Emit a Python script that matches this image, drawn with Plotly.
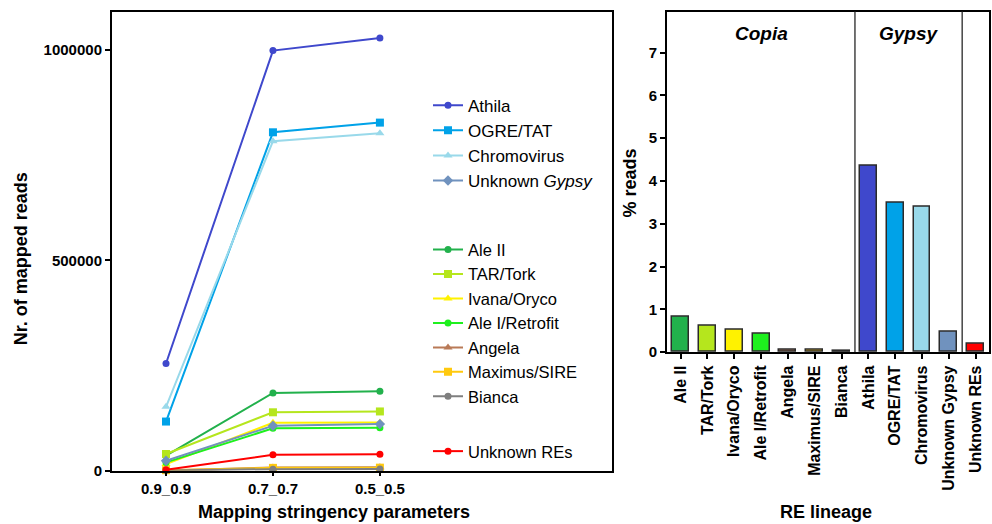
import plotly.graph_objects as go

W, H = 992, 524

# ---- left panel: mapped reads per lineage at three stringency settings ----
stringency = ["0.9_0.9", "0.7_0.7", "0.5_0.5"]

athila = [255000, 998000, 1028000]
ogre_tat = [117000, 804000, 827000]
chromovirus = [152000, 783000, 802000]
unknown_gypsy = [24000, 107000, 111000]
ale_ii = [36000, 185000, 189000]
tar_tork = [40000, 139000, 141000]
ivana_oryco = [16000, 114000, 115000]
ale_i_retrofit = [20000, 101000, 102000]
angela = [500, 8000, 8500]
maximus_sire = [1500, 7000, 7500]
bianca = [500, 4000, 4500]
unknown_res = [2500, 38000, 39500]

# ---- right panel: share of reads per lineage ----
lineages = ["Ale II", "TAR/Tork", "Ivana/Oryco", "Ale I/Retrofit", "Angela",
            "Maximus/SIRE", "Bianca", "Athila", "OGRE/TAT", "Chromovirus",
            "Unknown Gypsy", "Unknown REs"]
pct_reads = [0.82, 0.62, 0.51, 0.43, 0.05, 0.05, 0.03, 4.34, 3.49, 3.40, 0.48, 0.19]

C = {
    "Athila": "#3F48CC", "OGRE/TAT": "#00A2E8", "Chromovirus": "#99D9EA",
    "Unknown Gypsy": "#7092BE", "Ale II": "#22B14C", "TAR/Tork": "#B5E61D",
    "Ivana/Oryco": "#FFF200", "Ale I/Retrofit": "#1EF01E", "Angela": "#B97A57",
    "Maximus/SIRE": "#FFC90E", "Bianca": "#7F7F7F", "Unknown REs": "#FF0000",
}

FONT = "Liberation Sans, Arial, sans-serif"

def px_x(p):
    return p / W

def px_y(p):
    # pixel row (from top) -> paper fraction
    return 1 - (p + 1.9) / 0.987 / H

fig = go.Figure()

# (name, label, values, symbol, legend); drawing order puts Unknown Gypsy above the Copia lines
series = [
    ("Athila", "Athila", athila, "circle", "legend"),
    ("OGRE/TAT", "OGRE/TAT", ogre_tat, "square", "legend"),
    ("Chromovirus", "Chromovirus", chromovirus, "triangle-up", "legend"),
    ("Ale II", "Ale II", ale_ii, "circle", "legend2"),
    ("TAR/Tork", "TAR/Tork", tar_tork, "square", "legend2"),
    ("Ivana/Oryco", "Ivana/Oryco", ivana_oryco, "triangle-up", "legend2"),
    ("Ale I/Retrofit", "Ale I/Retrofit", ale_i_retrofit, "circle", "legend2"),
    ("Angela", "Angela", angela, "triangle-up", "legend2"),
    ("Maximus/SIRE", "Maximus/SIRE", maximus_sire, "square", "legend2"),
    ("Bianca", "Bianca", bianca, "circle", "legend2"),
    ("Unknown Gypsy", "Unknown <i>Gypsy</i>", unknown_gypsy, "diamond", "legend"),
    ("Unknown REs", "Unknown REs", unknown_res, "circle", "legend3"),
]

for key, label, vals, sym, leg in series:
    fig.add_trace(go.Scatter(
        x=stringency, y=vals, name=label, mode="lines+markers",
        line=dict(color=C[key], width=2),
        marker=dict(color=C[key], symbol=sym, size=8 if sym != "circle" else 7),
        legend=leg, cliponaxis=False, xaxis="x", yaxis="y",
    ))

fig.add_trace(go.Bar(
    x=lineages, y=pct_reads, marker=dict(color=[C[k] for k in lineages],
                                         line=dict(color="#2a2a2a", width=1.5)),
    width=0.63, showlegend=False, xaxis="x2", yaxis="y2",
))

tickfont = dict(family=FONT, size=15, color="black", weight="bold")
frame = dict(showline=True, linecolor="black", linewidth=2, mirror=True,
             showgrid=False, zeroline=False, ticks="outside", tickcolor="black",
             tickwidth=2)

legend_common = dict(bgcolor="rgba(0,0,0,0)", borderwidth=0, itemwidth=30,
                     xanchor="left", yanchor="top", x=px_x(428))

fig.update_layout(
    width=W, height=H, margin=dict(l=0, r=0, t=0, b=0),
    paper_bgcolor="white", plot_bgcolor="white", bargap=0,
    xaxis=dict(domain=[px_x(112), px_x(612)], type="category",
               range=[-0.505, 4.17], tickfont=tickfont, ticklen=3, **frame),
    yaxis=dict(domain=[px_y(470), px_y(10)], range=[0, 1090000],
               tickvals=[0, 500000, 1000000], ticktext=["0", "500000", "1000000"],
               tickfont=tickfont, ticklen=5, **frame),
    xaxis2=dict(domain=[px_x(667), px_x(989)], type="category",
                range=[-0.51, 11.5], tickangle=-90, ticklen=5,
                tickfont=dict(family=FONT, size=16, color="black", weight="bold"),
                anchor="y2", **frame),
    yaxis2=dict(domain=[px_y(351), px_y(10)], range=[0, 7.95],
                tickvals=list(range(8)), tickfont=tickfont, ticklen=5,
                anchor="x2", **frame),
    legend=dict(y=px_y(86), font=dict(family=FONT, size=17, color="black"),
                **legend_common),
    legend2=dict(y=px_y(231), font=dict(family=FONT, size=16.5, color="black"),
                 **legend_common),
    legend3=dict(y=px_y(433), font=dict(family=FONT, size=16.5, color="black"),
                 **legend_common),
)

# lineage-family separators in the bar panel
for xs in (6.5, 10.5):
    fig.add_shape(type="line", xref="x2", yref="y2 domain", x0=xs, x1=xs,
                  y0=0, y1=1, line=dict(color="#444444", width=1.5))

title_font = dict(family=FONT, size=18, color="black", weight="bold")
fam_font = dict(family=FONT, size=19, color="black", weight="bold", style="italic")

annots = [
    dict(text="Nr. of mapped reads", x=px_x(21), y=px_y(258), textangle=-90, font=title_font),
    dict(text="Mapping stringency parameters", x=px_x(334), y=px_y(511), font=title_font),
    dict(text="% reads", x=px_x(630), y=px_y(182), textangle=-90, font=title_font),
    dict(text="RE lineage", x=px_x(826), y=px_y(511), font=title_font),
    dict(text="Copia", x=3, xref="x2", y=px_y(32), font=fam_font),
    dict(text="Gypsy", x=8.5, xref="x2", y=px_y(32), font=fam_font),
]
for a in annots:
    a.setdefault("xref", "paper")
    fig.add_annotation(yref="paper", showarrow=False, xanchor="center",
                       yanchor="middle", **a)

fig.write_html("out.html")
